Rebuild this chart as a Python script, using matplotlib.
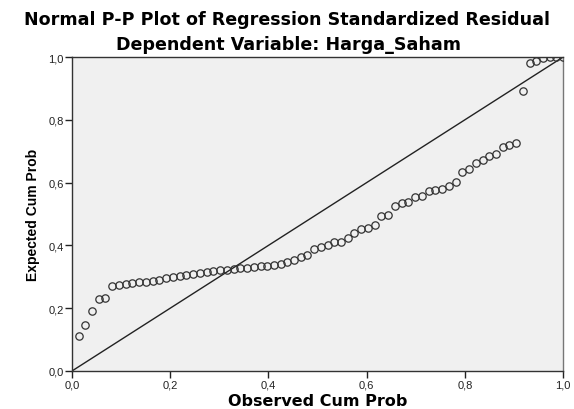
import matplotlib
matplotlib.use("Agg")
import matplotlib.pyplot as plt

# observed cumulative probability (i/73) and expected cumulative probability
observed = [0.014, 0.027, 0.041, 0.055, 0.068, 0.082, 0.096, 0.110, 0.123, 0.137,
            0.151, 0.164, 0.178, 0.192, 0.205, 0.219, 0.233, 0.247, 0.260, 0.274,
            0.288, 0.301, 0.315, 0.329, 0.342, 0.356, 0.370, 0.384, 0.397, 0.411,
            0.425, 0.438, 0.452, 0.466, 0.479, 0.493, 0.507, 0.521, 0.534, 0.548,
            0.562, 0.575, 0.589, 0.603, 0.616, 0.630, 0.644, 0.658, 0.671, 0.685,
            0.699, 0.712, 0.726, 0.740, 0.753, 0.767, 0.781, 0.795, 0.808, 0.822,
            0.836, 0.849, 0.863, 0.877, 0.890, 0.904, 0.918, 0.932, 0.945, 0.959,
            0.973, 0.986, 1.000]
expected = [0.113, 0.145, 0.192, 0.228, 0.232, 0.272, 0.274, 0.277, 0.279, 0.282,
            0.285, 0.288, 0.291, 0.295, 0.299, 0.303, 0.306, 0.310, 0.313, 0.316,
            0.319, 0.321, 0.323, 0.325, 0.327, 0.329, 0.331, 0.333, 0.335, 0.338,
            0.342, 0.348, 0.355, 0.363, 0.368, 0.389, 0.394, 0.401, 0.412, 0.412,
            0.425, 0.438, 0.452, 0.456, 0.464, 0.494, 0.498, 0.524, 0.535, 0.539,
            0.553, 0.557, 0.574, 0.577, 0.580, 0.590, 0.601, 0.633, 0.643, 0.662,
            0.673, 0.684, 0.691, 0.712, 0.721, 0.726, 0.893, 0.980, 0.988, 0.997,
            0.999, 1.000, 1.000]

ticks = [0.0, 0.2, 0.4, 0.6, 0.8, 1.0]
tick_labels = ['0,0', '0,2', '0,4', '0,6', '0,8', '1,0']

plt.rcParams['font.family'] = ['Liberation Sans', 'DejaVu Sans']

fig = plt.figure(figsize=(5.74, 4.10), dpi=100)
ax = fig.add_axes([0.1254, 0.0927, 0.8556, 0.7658])
ax.set_facecolor('#f0f0f0')

ax.plot([0, 1], [0, 1], color='#222222', lw=1.0, zorder=2)
ax.plot(observed, expected, 'o', ms=5.3, mfc='none', mec='#333333', mew=0.9, zorder=3)

ax.set_xlim(0, 1)
ax.set_ylim(0, 1)
ax.set_xticks(ticks)
ax.set_xticklabels(tick_labels)
ax.set_yticks(ticks)
ax.set_yticklabels(tick_labels)
ax.tick_params(direction='out', length=5, width=1, labelsize=8, colors='#222222', pad=1)

for s in ax.spines.values():
    s.set_color('#333333')
    s.set_linewidth(1.0)
ax.spines['right'].set_color('#777777')

ax.set_xlabel('Observed Cum Prob', fontsize=11.5, fontweight='bold', labelpad=3,
              family='DejaVu Sans')
ax.set_ylabel('Expected Cum Prob', fontsize=10, fontweight='bold', labelpad=6)

fig.text(0.5, 0.951, 'Normal P-P Plot of Regression Standardized Residual',
         ha='center', va='center', fontsize=12.6, fontweight='bold', family='DejaVu Sans')
fig.text(0.502, 0.89, 'Dependent Variable: Harga_Saham',
         ha='center', va='center', fontsize=12.6, fontweight='bold', family='DejaVu Sans')

fig.savefig('out.png', dpi=100)
